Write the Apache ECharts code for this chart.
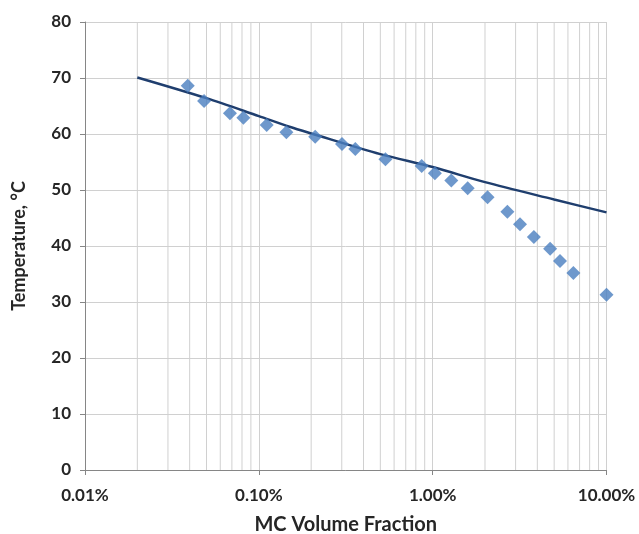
<!DOCTYPE html>
<html><head><meta charset="utf-8">
<script src="https://cdn.jsdelivr.net/npm/echarts@6/dist/echarts.min.js"></script>
<style>html,body{margin:0;padding:0;background:#fff}#c{width:639px;height:534px}</style>
</head><body><div id="c"></div>
<script>
// Measured data (volume fraction, temperature °C)
const measuredX = [0.00039, 0.000484, 0.000682, 0.000815, 0.00111, 0.00144, 0.00211, 0.00301, 0.00359, 0.00535, 0.00865, 0.0103, 0.0128, 0.0159, 0.0207, 0.0269, 0.0318, 0.0382, 0.0474, 0.054, 0.0645, 0.1];
const measuredY = [68.6, 65.9, 63.7, 62.9, 61.6, 60.3, 59.5, 58.2, 57.3, 55.5, 54.3, 53.0, 51.7, 50.3, 48.7, 46.1, 43.9, 41.6, 39.5, 37.3, 35.2, 31.3];
// Model line
const modelX = [0.0002, 0.0005, 0.001, 0.0015, 0.002, 0.005, 0.01, 0.02, 0.05, 0.1];
const modelY = [70.1, 66.4, 63.2, 61.3, 60.1, 56.4, 54.1, 51.4, 48.3, 46.0];
// Axes
const yTicks = [0, 10, 20, 30, 40, 50, 60, 70, 80];
const decades = [0.0001, 0.001, 0.01];
const minorMultipliers = [2, 3, 4, 5, 6, 7, 8, 9];

const minorValues = [];
decades.forEach(d => minorMultipliers.forEach(m => minorValues.push(+(d * m).toPrecision(3))));

const font = 'Lato, "Open Sans", sans-serif';
const gridColor = '#D0D0D0';
const minorSeries = minorValues.map(v => ({
  type: 'line', z: 1, silent: true, showSymbol: false, symbol: 'none',
  data: [[v, yTicks[0]], [v, yTicks[yTicks.length - 1]]],
  lineStyle: {color: gridColor, width: 1}
}));

const chart = echarts.init(document.getElementById('c'), null, {renderer: 'canvas'});
chart.setOption({
  animation: false,
  backgroundColor: '#fff',
  grid: {left: 85, right: 32.5, top: 22, bottom: 64, outerBoundsMode: 'none', containLabel: false},
  xAxis: {
    type: 'log', logBase: 10, min: 0.0001, max: 0.1,
    name: 'MC Volume Fraction', nameLocation: 'middle', nameGap: 45,
    nameTextStyle: {fontFamily: font, fontWeight: 'bold', fontSize: 20, color: '#262626'},
    axisLine: {show: true, lineStyle: {color: '#868686', width: 1}},
    axisTick: {show: true, length: 5, lineStyle: {color: '#868686'}},
    axisLabel: {fontFamily: font, fontWeight: 'bold', fontSize: 17, color: '#262626', margin: 17,
      formatter: v => (v * 100).toFixed(2) + '%'},
    splitLine: {show: true, lineStyle: {color: gridColor, width: 1}},
    minorTick: {show: false}, minorSplitLine: {show: false}
  },
  yAxis: {
    type: 'value', min: yTicks[0], max: yTicks[yTicks.length - 1], interval: 10,
    name: 'Temperature, °C', nameLocation: 'middle', nameGap: 57,
    nameTextStyle: {fontFamily: font, fontWeight: 'bold', fontSize: 18, color: '#262626'},
    axisLine: {show: true, lineStyle: {color: '#868686', width: 1}},
    axisTick: {show: true, length: 5, lineStyle: {color: '#868686'}},
    axisLabel: {fontFamily: font, fontWeight: 'bold', fontSize: 17, color: '#262626', margin: 14},
    splitLine: {show: true, lineStyle: {color: gridColor, width: 1}}
  },
  series: minorSeries.concat([
    {
      type: 'line', name: 'Model', z: 3,
      data: modelX.map((x, i) => [x, modelY[i]]),
      showSymbol: false, smooth: 0.3,
      lineStyle: {color: '#1F3E6E', width: 2.5}
    },
    {
      type: 'scatter', name: 'Measured', z: 4,
      data: measuredX.map((x, i) => [x, measuredY[i]]),
      symbol: 'diamond', symbolSize: [14, 14],
      itemStyle: {color: '#4A7EBF'}
    }
  ])
});
</script></body></html>
